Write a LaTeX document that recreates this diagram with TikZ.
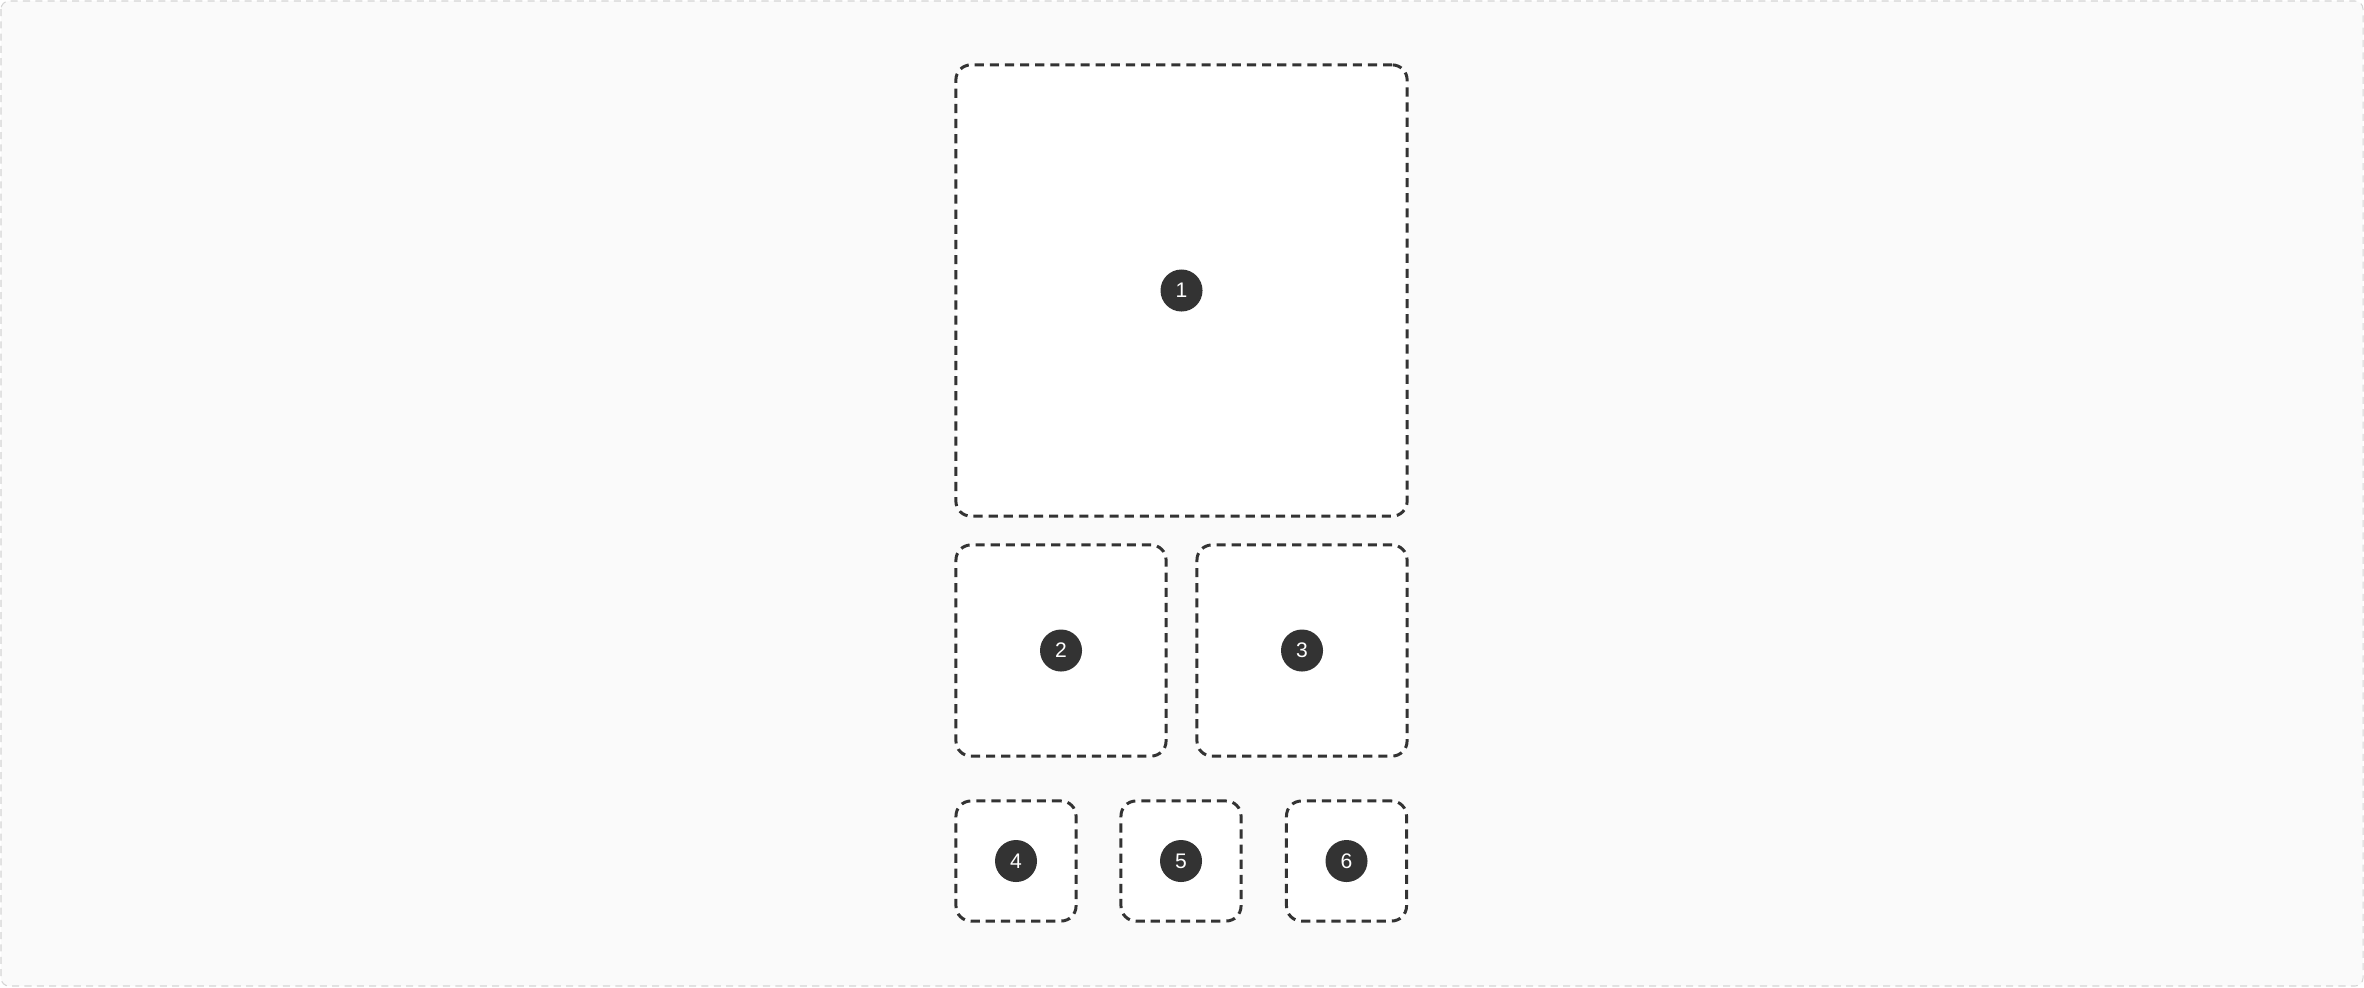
\documentclass[tikz,border=0pt]{standalone}
\usepackage{fontspec}
\setsansfont{Liberation Sans}
\usepackage{tikz}
\usetikzlibrary{positioning}
\definecolor{bgpage}{HTML}{FAFAFA}
\definecolor{frameline}{HTML}{D4D4D4}
\definecolor{boxline}{HTML}{333333}
\tikzset{
  slot/.style={draw=boxline, fill=white, line width=0.85pt, dash pattern=on 2.6pt off 1.7pt,
    rounded corners=0.15cm, inner sep=0pt},
  badge/.style={circle, fill=boxline, text=white, minimum size=0.42cm, inner sep=0pt,
    font=\sffamily\fontsize{6}{7}\selectfont}
}

\begin{document}
\begin{tikzpicture}[x=0.01cm, y=-0.01cm]
  \useasboundingbox (0,0) rectangle (2364,987);
  \draw[fill=bgpage, draw=frameline, line width=0.3pt, dash pattern=on 2pt off 1.5pt, rounded corners=0.08cm] (1,1) rectangle (2363,986);
  % top slot
  \node[slot, minimum width=4.51cm, minimum height=4.51cm] (slotA) at (1181.5,290.5) {};
  \node[badge] (numA) at (slotA.center) {1};
  % middle row
  \node[slot, minimum width=2.10cm, minimum height=2.11cm] (slotB) at (1061,650.5) {};
  \node[slot, minimum width=2.10cm, minimum height=2.11cm] (slotC) at (1302,650.5) {};
  \node[badge] (numB) at (slotB.center) {2};
  \node[badge] (numC) at (slotC.center) {3};
  % bottom row
  \node[slot, minimum width=1.20cm, minimum height=1.20cm] (slotD) at (1016,861) {};
  \node[slot, minimum width=1.20cm, minimum height=1.20cm] (slotE) at (1181,861) {};
  \node[slot, minimum width=1.20cm, minimum height=1.20cm] (slotF) at (1346.5,861) {};
  \node[badge] (numD) at (slotD.center) {4};
  \node[badge] (numE) at (slotE.center) {5};
  \node[badge] (numF) at (slotF.center) {6};
\end{tikzpicture}
\end{document}
